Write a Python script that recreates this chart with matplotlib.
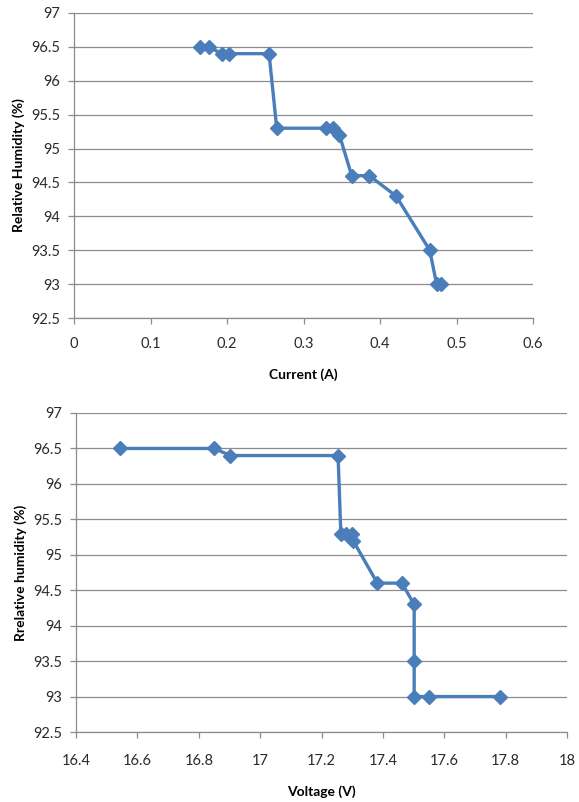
import matplotlib
matplotlib.use('Agg')
import matplotlib.pyplot as plt

plt.rcParams['font.family'] = ['Liberation Sans Narrow', 'Lato', 'DejaVu Sans']

# humidity vs current
current = [0.165, 0.176, 0.193, 0.202, 0.255, 0.265, 0.329, 0.339, 0.347,
           0.363, 0.386, 0.421, 0.465, 0.474, 0.480]
rh_current = [96.5, 96.5, 96.4, 96.4, 96.4, 95.3, 95.3, 95.3, 95.2,
              94.6, 94.6, 94.3, 93.5, 93.0, 93.0]

# humidity vs voltage
voltage = [16.543, 16.850, 16.903, 17.254, 17.263, 17.279, 17.299, 17.303,
           17.382, 17.462, 17.502, 17.502, 17.502, 17.551, 17.783]
rh_voltage = [96.5, 96.5, 96.4, 96.4, 95.3, 95.3, 95.3, 95.2,
              94.6, 94.6, 94.3, 93.5, 93.0, 93.0, 93.0]

y_ticks = [92.5, 93, 93.5, 94, 94.5, 95, 95.5, 96, 96.5, 97]
y_labels = ['92.5', '93', '93.5', '94', '94.5', '95', '95.5', '96', '96.5', '97']
cur_ticks = [0, 0.1, 0.2, 0.3, 0.4, 0.5, 0.6]
cur_labels = ['0', '0.1', '0.2', '0.3', '0.4', '0.5', '0.6']
volt_ticks = [16.4, 16.6, 16.8, 17, 17.2, 17.4, 17.6, 17.8, 18]
volt_labels = ['16.4', '16.6', '16.8', '17', '17.2', '17.4', '17.6', '17.8', '18']

BLUE = '#4a7ebb'
GRID = '#8c8c8c'


def style_axes(ax, xt, xl, xlabel, ylabel, xpad):
    ax.set_yticks(y_ticks)
    ax.set_yticklabels(y_labels)
    ax.set_xticks(xt)
    ax.set_xticklabels(xl)
    ax.set_ylim(92.5, 97)
    ax.set_xlim(xt[0], xt[-1])
    ax.grid(axis='y', color=GRID, linewidth=0.9)
    ax.set_axisbelow(True)
    for s in ['top', 'right']:
        ax.spines[s].set_visible(False)
    for s in ['left', 'bottom']:
        ax.spines[s].set_color(GRID)
        ax.spines[s].set_linewidth(0.9)
    ax.tick_params(axis='both', colors=GRID, length=4, width=0.9,
                   labelcolor='#2a2a2a', labelsize=10.5, pad=6)
    ax.tick_params(axis='x', pad=xpad)
    ax.set_xlabel(xlabel, fontsize=10, fontweight='bold', labelpad=12)
    ax.set_ylabel(ylabel, fontsize=10, fontweight='bold', labelpad=4)


fig = plt.figure(figsize=(5.79, 8.02), dpi=100, facecolor='white')
ax1 = fig.add_axes([74/579, 1 - 318/802, (533-74)/579, (318-13)/802])
ax2 = fig.add_axes([76/579, 1 - 732/802, (567-76)/579, (732-413)/802])

ax1.plot(current, rh_current, color=BLUE, linewidth=2.4, marker='D',
         markersize=7.5, markeredgecolor=BLUE)
style_axes(ax1, cur_ticks, cur_labels, 'Current (A)', 'Relative Humidity (%)', 10)

ax2.plot(voltage, rh_voltage, color=BLUE, linewidth=2.4, marker='D',
         markersize=7.5, markeredgecolor=BLUE)
style_axes(ax2, volt_ticks, volt_labels, 'Voltage (V)', 'Rrelative humidity (%)', 12)

plt.savefig('out.png', dpi=100)
